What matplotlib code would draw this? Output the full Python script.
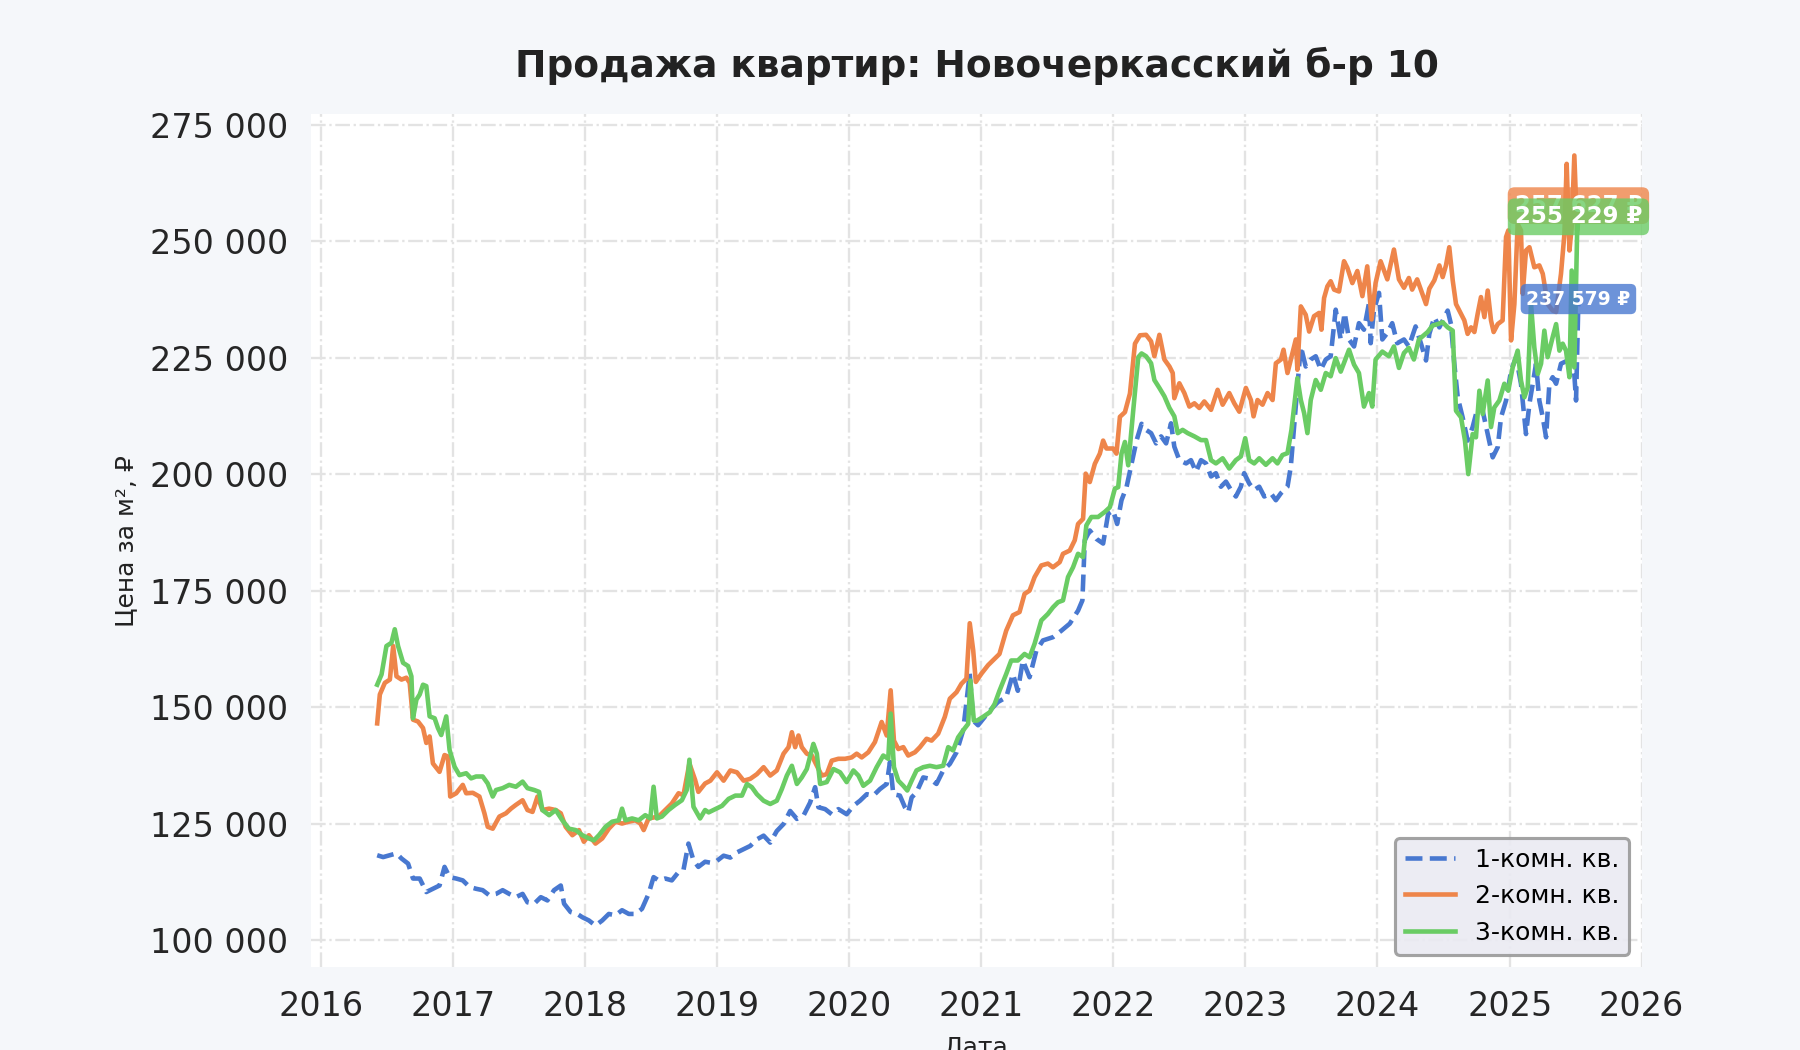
import matplotlib
matplotlib.use('Agg')
import matplotlib.pyplot as plt
import matplotlib.dates as mdates
from matplotlib.ticker import FuncFormatter, MultipleLocator
import numpy as np
import pandas as pd

# данные: время в долях года, цена за м2 в рублях
one_t = [
    2016.427, 2016.472, 2016.523, 2016.573, 2016.611, 2016.661, 2016.698, 2016.749,
    2016.799, 2016.849, 2016.899, 2016.937, 2016.975, 2017.025, 2017.075, 2017.126,
    2017.176, 2017.226, 2017.276, 2017.327, 2017.377, 2017.427, 2017.477, 2017.528,
    2017.565, 2017.616, 2017.666, 2017.716, 2017.766, 2017.817, 2017.842, 2017.892,
    2017.942, 2017.980, 2018.030, 2018.080, 2018.131, 2018.181, 2018.231, 2018.281,
    2018.332, 2018.382, 2018.432, 2018.482, 2018.520, 2018.558, 2018.608, 2018.658,
    2018.709, 2018.746, 2018.784, 2018.822, 2018.859, 2018.910, 2018.950, 2019.000,
    2019.050, 2019.101, 2019.151, 2019.202, 2019.252, 2019.302, 2019.353, 2019.403,
    2019.453, 2019.504, 2019.554, 2019.605, 2019.655, 2019.705, 2019.743, 2019.768,
    2019.819, 2019.869, 2019.919, 2019.982, 2020.033, 2020.083, 2020.134, 2020.184,
    2020.234, 2020.285, 2020.310, 2020.335, 2020.385, 2020.423, 2020.448, 2020.474,
    2020.511, 2020.562, 2020.612, 2020.662, 2020.713, 2020.763, 2020.814, 2020.864,
    2020.914, 2020.940, 2020.977, 2021.028, 2021.078, 2021.128, 2021.190, 2021.241,
    2021.278, 2021.316, 2021.367, 2021.418, 2021.468, 2021.544, 2021.608, 2021.671,
    2021.734, 2021.767, 2021.785, 2021.823, 2021.873, 2021.924, 2021.962, 2022.000,
    2022.030, 2022.063, 2022.101, 2022.139, 2022.177, 2022.215, 2022.249, 2022.287,
    2022.325, 2022.363, 2022.401, 2022.438, 2022.463, 2022.501, 2022.552, 2022.589,
    2022.627, 2022.665, 2022.703, 2022.741, 2022.778, 2022.816, 2022.854, 2022.892,
    2022.929, 2022.967, 2022.992, 2023.030, 2023.068, 2023.106, 2023.144, 2023.194,
    2023.232, 2023.270, 2023.320, 2023.345, 2023.370, 2023.395, 2023.421, 2023.458,
    2023.496, 2023.534, 2023.572, 2023.610, 2023.647, 2023.685, 2023.723, 2023.753,
    2023.786, 2023.824, 2023.861, 2023.899, 2023.937, 2023.950, 2023.975, 2024.013,
    2024.038, 2024.076, 2024.113, 2024.151, 2024.202, 2024.239, 2024.290, 2024.331,
    2024.369, 2024.394, 2024.432, 2024.470, 2024.508, 2024.533, 2024.558, 2024.583,
    2024.609, 2024.646, 2024.684, 2024.722, 2024.760, 2024.798, 2024.836, 2024.874,
    2024.912, 2024.937, 2024.975, 2025.013, 2025.051, 2025.088, 2025.126, 2025.152,
    2025.177, 2025.202, 2025.227, 2025.253, 2025.278, 2025.303, 2025.328, 2025.354,
    2025.391, 2025.442, 2025.480, 2025.505, 2025.523,
]
one_v = [
    118200, 117800, 118200, 118600, 117500, 116400, 113200, 113200,
    110300, 111000, 111700, 115700, 113500, 113200, 112800, 111400,
    111000, 110700, 109600, 109900, 110700, 109900, 109200, 109900,
    108100, 107800, 109200, 108500, 110700, 111700, 107800, 106000,
    105600, 104900, 104200, 103100, 104200, 105600, 105300, 106400,
    105600, 105600, 106700, 109900, 113500, 112800, 113200, 112800,
    114600, 115000, 120700, 117100, 115700, 116800, 116600, 117000,
    118100, 117700, 118800, 119500, 120200, 121600, 122400, 120900,
    123400, 124900, 127700, 126000, 126700, 129500, 132800, 128500,
    128100, 127000, 128100, 127000, 128800, 129900, 131300, 131000,
    132400, 133500, 138200, 131300, 131000, 128500, 127400, 130600,
    131700, 134900, 134600, 133500, 136400, 137800, 140300, 145000,
    157200, 147100, 146100, 147900, 149600, 151100, 152100, 157100,
    153500, 160000, 156400, 162100, 164300, 165000, 166400, 167900,
    170700, 172900, 185800, 187900, 186100, 185100, 191500, 192200,
    189300, 194400, 197200, 202200, 207200, 210800, 209500, 208800,
    206600, 208100, 206600, 210900, 205900, 203000, 202300, 203000,
    200500, 203000, 202300, 199500, 200200, 197300, 198400, 196600,
    195200, 197300, 200200, 198000, 196600, 197300, 195200, 195900,
    194400, 195900, 197300, 201600, 210200, 218800, 227400, 223100,
    224600, 225300, 222400, 224600, 225300, 235300, 228900, 234600,
    228900, 227400, 232400, 231000, 236700, 228100, 235300, 238900,
    228900, 230300, 232400, 228100, 228900, 227400, 231700, 228000,
    224400, 230100, 233700, 231500, 233700, 235100, 232200, 223700,
    216500, 212200, 207200, 210100, 214300, 213600, 208600, 203600,
    205800, 212200, 215800, 222200, 225100, 219400, 208600, 215100,
    219400, 223700, 215800, 212200, 207900, 219400, 220800, 219400,
    223700, 224400, 226500, 215800, 237579,
]

two_t = [
    2016.427, 2016.447, 2016.485, 2016.523, 2016.548, 2016.573, 2016.611, 2016.648,
    2016.673, 2016.698, 2016.736, 2016.774, 2016.799, 2016.824, 2016.849, 2016.899,
    2016.937, 2016.962, 2016.980, 2017.025, 2017.075, 2017.101, 2017.151, 2017.201,
    2017.239, 2017.264, 2017.302, 2017.352, 2017.402, 2017.440, 2017.477, 2017.528,
    2017.565, 2017.603, 2017.641, 2017.678, 2017.729, 2017.779, 2017.817, 2017.854,
    2017.905, 2017.955, 2017.992, 2018.030, 2018.080, 2018.131, 2018.181, 2018.231,
    2018.281, 2018.332, 2018.382, 2018.420, 2018.445, 2018.482, 2018.558, 2018.608,
    2018.658, 2018.709, 2018.746, 2018.791, 2018.834, 2018.859, 2018.910, 2018.950,
    2019.000, 2019.050, 2019.101, 2019.151, 2019.202, 2019.252, 2019.302, 2019.353,
    2019.403, 2019.453, 2019.504, 2019.542, 2019.567, 2019.592, 2019.617, 2019.642,
    2019.680, 2019.718, 2019.756, 2019.793, 2019.831, 2019.869, 2019.919, 2019.970,
    2020.020, 2020.058, 2020.096, 2020.146, 2020.196, 2020.247, 2020.285, 2020.315,
    2020.340, 2020.373, 2020.411, 2020.448, 2020.499, 2020.537, 2020.587, 2020.625,
    2020.675, 2020.725, 2020.763, 2020.814, 2020.851, 2020.889, 2020.914, 2020.940,
    2020.960, 2021.003, 2021.053, 2021.103, 2021.139, 2021.190, 2021.241, 2021.291,
    2021.329, 2021.367, 2021.405, 2021.456, 2021.506, 2021.544, 2021.595, 2021.620,
    2021.671, 2021.709, 2021.734, 2021.772, 2021.792, 2021.823, 2021.861, 2021.899,
    2021.924, 2021.949, 2022.000, 2022.025, 2022.051, 2022.089, 2022.127, 2022.165,
    2022.203, 2022.249, 2022.287, 2022.312, 2022.350, 2022.388, 2022.426, 2022.451,
    2022.463, 2022.501, 2022.539, 2022.577, 2022.615, 2022.652, 2022.690, 2022.741,
    2022.791, 2022.829, 2022.879, 2022.917, 2022.955, 2023.005, 2023.043, 2023.063,
    2023.093, 2023.131, 2023.169, 2023.207, 2023.232, 2023.270, 2023.290, 2023.320,
    2023.358, 2023.383, 2023.395, 2023.421, 2023.458, 2023.484, 2023.521, 2023.559,
    2023.577, 2023.597, 2023.622, 2023.647, 2023.673, 2023.710, 2023.748, 2023.773,
    2023.811, 2023.849, 2023.887, 2023.924, 2023.957, 2023.987, 2024.025, 2024.076,
    2024.126, 2024.164, 2024.202, 2024.239, 2024.264, 2024.302, 2024.369, 2024.394,
    2024.432, 2024.470, 2024.495, 2024.520, 2024.545, 2024.571, 2024.596, 2024.634,
    2024.659, 2024.684, 2024.710, 2024.735, 2024.760, 2024.785, 2024.811, 2024.836,
    2024.861, 2024.881, 2024.912, 2024.949, 2024.975, 2024.992, 2025.013, 2025.038,
    2025.063, 2025.088, 2025.101, 2025.126, 2025.152, 2025.189, 2025.227, 2025.253,
    2025.290, 2025.328, 2025.354, 2025.391, 2025.417, 2025.434, 2025.455, 2025.472,
    2025.492, 2025.513, 2025.523,
]
two_v = [
    146500, 152700, 155200, 155900, 163100, 156600, 155900, 156300,
    155200, 147300, 146900, 145500, 142300, 143700, 137900, 136100,
    139700, 139400, 130800, 131500, 133300, 131500, 131600, 130800,
    127200, 124300, 123900, 126500, 127200, 128200, 129000, 130000,
    127900, 127500, 130800, 127900, 128200, 127900, 127200, 124300,
    122500, 123600, 121100, 122500, 120700, 121800, 123900, 125400,
    125000, 125400, 125700, 125000, 123600, 126100, 126500, 127900,
    129300, 131500, 131100, 137900, 134400, 131800, 133600, 134200,
    136000, 134200, 136400, 136000, 134200, 134600, 135600, 137100,
    135300, 136400, 140000, 141400, 144600, 141400, 143900, 141400,
    140000, 139600, 137400, 135300, 135600, 138500, 138900, 138900,
    139200, 140000, 139200, 140300, 142500, 146800, 143900, 153600,
    142800, 141000, 141400, 139600, 140300, 141400, 143200, 142800,
    144300, 147900, 151800, 153200, 155000, 156100, 168000, 162200,
    155400, 157200, 159000, 160400, 161400, 166400, 169700, 170400,
    174300, 175000, 177900, 180400, 180800, 180000, 181100, 182900,
    183600, 185800, 189300, 190400, 200100, 198300, 202200, 204400,
    207200, 205500, 205500, 204400, 212300, 213300, 217300, 228000,
    229800, 229900, 228500, 225300, 229900, 224600, 223100, 221700,
    216300, 219500, 217400, 214500, 215200, 214200, 215600, 213800,
    218100, 214900, 217400, 215200, 213400, 218500, 215900, 212400,
    215900, 214900, 217400, 215900, 223800, 224600, 226700, 221700,
    226000, 228900, 222400, 236000, 234200, 230600, 233900, 234600,
    231000, 237800, 240300, 241400, 239600, 239200, 245700, 244300,
    241000, 243600, 238200, 244600, 233200, 241000, 245700, 241800,
    248200, 241800, 240000, 242100, 239600, 241800, 236500, 239800,
    241600, 244800, 242300, 244800, 248700, 241600, 236500, 234400,
    233000, 230100, 231500, 230500, 234400, 238000, 233700, 239400,
    233000, 230500, 232200, 233000, 250900, 252300, 228700, 236500,
    253700, 252300, 238700, 248000, 248700, 244400, 244800, 243000,
    236500, 235100, 234800, 243000, 251600, 266600, 248000, 253000,
    268400, 252300, 257627,
]

three_t = [
    2016.427, 2016.460, 2016.497, 2016.535, 2016.560, 2016.585, 2016.623, 2016.661,
    2016.686, 2016.698, 2016.724, 2016.749, 2016.774, 2016.799, 2016.824, 2016.862,
    2016.887, 2016.912, 2016.950, 2016.975, 2017.013, 2017.050, 2017.101, 2017.138,
    2017.176, 2017.226, 2017.264, 2017.302, 2017.327, 2017.377, 2017.427, 2017.477,
    2017.528, 2017.565, 2017.616, 2017.653, 2017.678, 2017.729, 2017.779, 2017.829,
    2017.879, 2017.930, 2017.980, 2018.030, 2018.068, 2018.106, 2018.156, 2018.206,
    2018.256, 2018.281, 2018.307, 2018.357, 2018.407, 2018.457, 2018.495, 2018.520,
    2018.545, 2018.583, 2018.633, 2018.683, 2018.734, 2018.771, 2018.791, 2018.822,
    2018.872, 2018.910, 2018.937, 2018.987, 2019.038, 2019.088, 2019.139, 2019.189,
    2019.227, 2019.264, 2019.302, 2019.353, 2019.403, 2019.453, 2019.491, 2019.529,
    2019.567, 2019.605, 2019.642, 2019.680, 2019.730, 2019.756, 2019.781, 2019.831,
    2019.882, 2019.932, 2019.982, 2020.033, 2020.071, 2020.108, 2020.159, 2020.209,
    2020.259, 2020.297, 2020.315, 2020.340, 2020.373, 2020.411, 2020.441, 2020.474,
    2020.511, 2020.562, 2020.612, 2020.662, 2020.713, 2020.751, 2020.788, 2020.826,
    2020.864, 2020.902, 2020.919, 2020.945, 2020.970, 2021.015, 2021.066, 2021.103,
    2021.139, 2021.190, 2021.228, 2021.278, 2021.329, 2021.367, 2021.405, 2021.456,
    2021.506, 2021.544, 2021.582, 2021.620, 2021.658, 2021.696, 2021.734, 2021.772,
    2021.797, 2021.835, 2021.886, 2021.937, 2021.975, 2022.013, 2022.038, 2022.063,
    2022.089, 2022.114, 2022.152, 2022.190, 2022.215, 2022.249, 2022.287, 2022.312,
    2022.350, 2022.388, 2022.426, 2022.463, 2022.489, 2022.526, 2022.564, 2022.615,
    2022.665, 2022.703, 2022.741, 2022.778, 2022.829, 2022.879, 2022.929, 2022.967,
    2023.000, 2023.030, 2023.068, 2023.106, 2023.156, 2023.207, 2023.244, 2023.282,
    2023.320, 2023.350, 2023.370, 2023.395, 2023.421, 2023.446, 2023.471, 2023.496,
    2023.534, 2023.572, 2023.610, 2023.647, 2023.685, 2023.723, 2023.786, 2023.824,
    2023.861, 2023.899, 2023.937, 2023.962, 2023.987, 2024.038, 2024.088, 2024.126,
    2024.164, 2024.202, 2024.239, 2024.277, 2024.315, 2024.381, 2024.419, 2024.457,
    2024.495, 2024.533, 2024.571, 2024.596, 2024.634, 2024.664, 2024.689, 2024.722,
    2024.747, 2024.773, 2024.798, 2024.836, 2024.861, 2024.886, 2024.924, 2024.962,
    2024.992, 2025.025, 2025.063, 2025.088, 2025.114, 2025.139, 2025.164, 2025.189,
    2025.215, 2025.240, 2025.265, 2025.290, 2025.328, 2025.354, 2025.379, 2025.404,
    2025.429, 2025.455, 2025.472, 2025.492, 2025.513, 2025.523,
]
three_v = [
    154800, 157000, 163100, 163800, 166700, 163100, 159500, 158800,
    156600, 147600, 151600, 152700, 154800, 154500, 148000, 147600,
    145500, 144000, 148000, 140800, 137200, 135400, 135800, 134700,
    135100, 135100, 133600, 130800, 132200, 132600, 133300, 132900,
    134000, 132600, 132200, 131800, 127900, 126800, 127900, 125700,
    123900, 123600, 122500, 121800, 121400, 122500, 124300, 125400,
    125700, 128200, 125700, 126100, 125700, 126800, 126100, 132900,
    126100, 126500, 127900, 129000, 130000, 132200, 138700, 128600,
    126100, 127900, 127400, 128100, 128800, 130300, 131000, 131000,
    133500, 132800, 131300, 129900, 129200, 129900, 132400, 135300,
    137400, 133500, 134900, 136700, 142100, 140000, 133500, 133900,
    136700, 136000, 133900, 136400, 135300, 133100, 134200, 137100,
    139600, 138900, 148600, 137100, 134200, 133100, 132100, 134200,
    136400, 137100, 137400, 137100, 137400, 141400, 140700, 143500,
    145000, 146400, 155700, 147100, 147100, 147900, 148900, 150700,
    153500, 157100, 160000, 160000, 161400, 160700, 163600, 168600,
    170000, 171400, 172500, 172900, 177900, 180000, 182900, 182200,
    189000, 190800, 190800, 191900, 192900, 196900, 197200, 204400,
    206900, 201900, 213700, 225100, 225900, 225300, 223800, 220200,
    218500, 216700, 214200, 212400, 208800, 209500, 208800, 208100,
    207300, 207300, 203000, 202300, 203400, 201200, 203000, 203800,
    207700, 203000, 202300, 203400, 202000, 203400, 202300, 204100,
    204500, 209500, 214500, 220600, 215900, 213100, 208800, 215900,
    220200, 218100, 221700, 221000, 224900, 222000, 226700, 223500,
    221700, 214500, 217400, 214500, 224600, 226300, 225300, 227400,
    222800, 226000, 227100, 224600, 228900, 230500, 231900, 232200,
    232600, 231500, 230800, 213600, 212200, 207200, 200000, 208600,
    207900, 217900, 212900, 220100, 210100, 214300, 215800, 219400,
    217900, 222900, 226500, 220100, 216500, 218600, 236500, 227200,
    221500, 223700, 230800, 225100, 229400, 232200, 226500, 228000,
    226500, 220800, 243700, 222900, 251600, 255229,
]

series_labels = ['1-комн. кв.', '2-комн. кв.', '3-комн. кв.']
colors = ['#4878d0', '#ee854a', '#6acc64']


def to_dates(years):
    years = np.asarray(years, dtype=float)
    return pd.Timestamp('2016-01-01') + pd.to_timedelta((years - 2016.0) * 365.25, unit='D')


def fmt_space(v):
    return f'{v:,.0f}'.replace(',', ' ')


fig, ax = plt.subplots(figsize=(12, 7), dpi=150)
fig.patch.set_facecolor('#f5f7fa')
ax.set_facecolor('white')
fig.subplots_adjust(left=0.173, right=0.912, top=0.891, bottom=0.079)

data = [(one_t, one_v, '--'), (two_t, two_v, '-'), (three_t, three_v, '-')]
for (t, v, ls), lab, col in zip(data, series_labels, colors):
    ax.plot(to_dates(t), v, color=col, linestyle=ls, linewidth=2.2, label=lab)

# подписи последних значений
label_sizes = [9, 11, 11]
for (t, v, ls), col, fs in zip(data, colors, label_sizes):
    ax.annotate(fmt_space(v[-1]) + ' ₽', xy=(to_dates(t)[-1], v[-1]),
                ha='center', va='center', fontsize=fs, fontweight='bold', color='white',
                bbox=dict(boxstyle='round,pad=0.3', fc=col, ec='none', alpha=0.8),
                zorder=5)

ax.set_xlim(pd.Timestamp('2015-12-06'), pd.Timestamp('2026-01-01'))
ax.set_ylim(94200, 277200)
ax.xaxis.set_major_locator(mdates.YearLocator())
ax.xaxis.set_major_formatter(mdates.DateFormatter('%Y'))
ax.yaxis.set_major_locator(MultipleLocator(25000))
ax.yaxis.set_major_formatter(FuncFormatter(lambda v, p: fmt_space(v)))

ax.grid(True, linestyle='-.', color='#e3e3e3', linewidth=1.1)
ax.set_axisbelow(True)
for s in ax.spines.values():
    s.set_visible(False)
ax.tick_params(axis='both', labelsize=16, length=0, pad=11, labelcolor='#262626')

ax.set_title('Продажа квартир: Новочеркасский б-р 10', fontsize=18, fontweight='bold',
             color='#222222', pad=18)
ax.set_ylabel('Цена за м², ₽', fontsize=12, color='#222222', labelpad=6)
ax.set_xlabel('Дата', fontsize=12, color='#222222', labelpad=6)

leg = ax.legend(loc='lower right', fontsize=12, frameon=True, fancybox=True,
                facecolor='#eaeaf2', edgecolor='#999999', framealpha=0.9)
leg.get_frame().set_linewidth(1.5)

fig.savefig('out.png', dpi=150, facecolor=fig.get_facecolor())
